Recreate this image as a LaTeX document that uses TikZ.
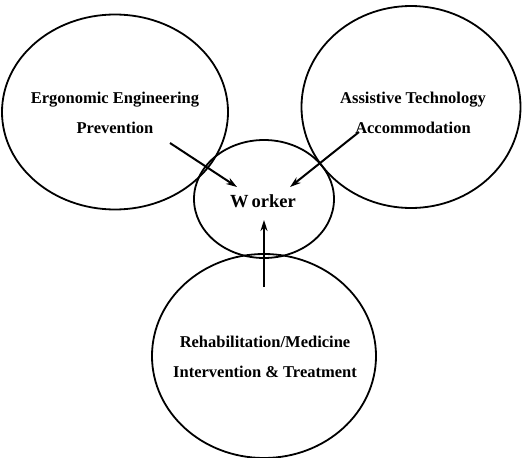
\documentclass[tikz,border=0pt]{standalone}
\usepackage{fontspec}
\setmainfont{Liberation Serif}
\usetikzlibrary{shapes.geometric,arrows.meta}

\begin{document}
\begin{tikzpicture}[x=1pt,y=-1pt]
                    \tikzset{area/.style={draw, ellipse, line width=1.8pt, inner sep=0pt}}
                    \tikzset{caption/.style={align=center, inner sep=0pt,
                        font=\bfseries\fontsize{16.5}{30}\selectfont}}
                    \tikzset{push/.style={line width=2pt, -{Stealth[length=11pt,width=7pt]}}}
                    \useasboundingbox (0,0) rectangle (523,458);
                    \node[area, minimum width=226pt, minimum height=195pt] (ergo) at (115,112) {};
                    \node[area, minimum width=219pt, minimum height=202pt] (assist) at (411,107) {};
                    \node[area, minimum width=224pt, minimum height=204pt] (rehab) at (264,356) {};
                    \node[area, minimum width=140pt, minimum height=118pt] (worker) at (264,199) {};
                    \node[caption] (ergo-text) at (115,113) {Ergonomic Engineering\\Prevention};
                    \node[caption] (assist-text) at (413,113) {Assistive Technology\\Accommodation};
                    \node[caption] (rehab-text) at (265,357) {Rehabilitation/Medicine\\Intervention \& Treatment};
                    \node[caption, font=\bfseries\fontsize{18.5}{20}\selectfont] (worker-text) at (263,201) {W\,orker};
                    \coordinate (ergo-out) at (170,143);
                    \coordinate (assist-out) at (359,132);
                    \coordinate (rehab-out) at (264,287);
                    \coordinate (worker-nw) at (237,187);
                    \coordinate (worker-ne) at (290,187);
                    \coordinate (worker-s) at (264,220);
                    \draw[push] (ergo-out) -- (worker-nw);
                    \draw[push] (assist-out) -- (worker-ne);
                    \draw[push] (rehab-out) -- (worker-s);
\end{tikzpicture}
\end{document}
